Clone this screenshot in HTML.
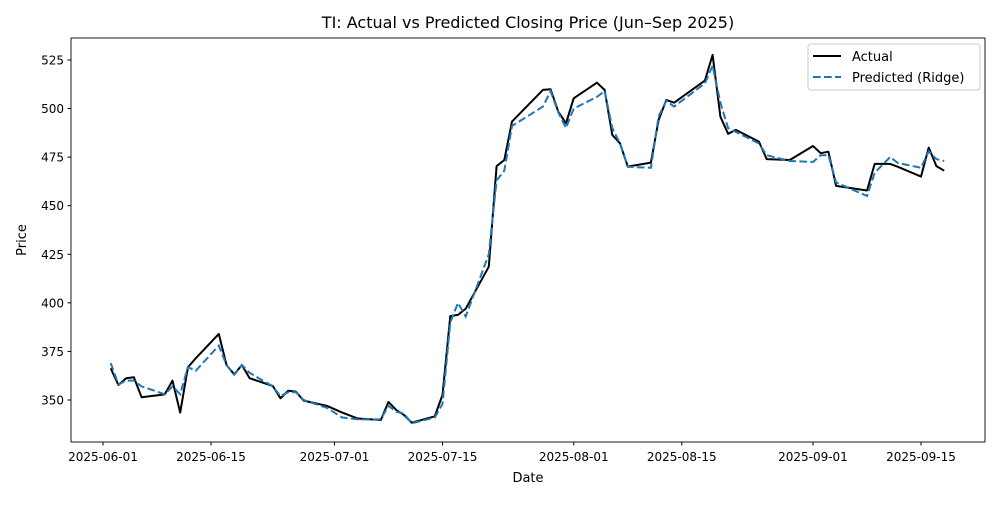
<!DOCTYPE html>
<html><head><meta charset="utf-8"><style>
body{margin:0;background:#fff}
svg{font-family:"DejaVu Sans","Liberation Sans",sans-serif}
</style></head><body>
<svg id="chart" width="1000" height="500" viewBox="0 0 1000 500" xmlns="http://www.w3.org/2000/svg">
<rect width="1000" height="500" fill="#fff"/>
<text x="528" y="28" text-anchor="middle" font-size="16">TI: Actual vs Predicted Closing Price (Jun–Sep 2025)</text>
<g id="grid"></g>
<g id="series"></g>
<rect x="71" y="38" width="914" height="404" fill="none" stroke="#000" stroke-width="0.9"/>
<text x="528" y="482" text-anchor="middle" font-size="13">Date</text>
<text x="26" y="240" text-anchor="middle" font-size="13" transform="rotate(-90 26 240)">Price</text>
<g>
<rect x="808" y="44" width="172" height="46" rx="3" fill="#fff" fill-opacity="0.8" stroke="#ccc"/>
<line x1="813" y1="56" x2="841" y2="56" stroke="#000" stroke-width="2"/>
<text x="852" y="61" font-size="13">Actual</text>
<line x1="813" y1="77" x2="841" y2="77" stroke="#1f77b4" stroke-width="2" stroke-dasharray="7.7,3.3"/>
<text x="852" y="82" font-size="13">Predicted (Ridge)</text>
</g>
</svg>
<script>
const dates=["2025-06-02","2025-06-03","2025-06-04","2025-06-05","2025-06-06","2025-06-09","2025-06-10","2025-06-11","2025-06-12","2025-06-13","2025-06-16","2025-06-17","2025-06-18","2025-06-19","2025-06-20","2025-06-23","2025-06-24","2025-06-25","2025-06-26","2025-06-27","2025-06-30","2025-07-02","2025-07-04","2025-07-07","2025-07-08","2025-07-09","2025-07-10","2025-07-11","2025-07-14","2025-07-15","2025-07-16","2025-07-17","2025-07-18","2025-07-21","2025-07-22","2025-07-23","2025-07-24","2025-07-28","2025-07-29","2025-07-30","2025-07-31","2025-08-01","2025-08-04","2025-08-05","2025-08-06","2025-08-07","2025-08-08","2025-08-11","2025-08-12","2025-08-13","2025-08-14","2025-08-18","2025-08-19","2025-08-20","2025-08-21","2025-08-22","2025-08-25","2025-08-26","2025-08-29","2025-09-01","2025-09-02","2025-09-03","2025-09-04","2025-09-08","2025-09-09","2025-09-11","2025-09-12","2025-09-15","2025-09-16","2025-09-17","2025-09-18"];
const actual=[366.3,357.7,361.2,361.7,351.4,352.9,360,343.5,366.8,371.4,384,368,363.2,368,361.2,357.2,350.9,354.8,354.3,349.7,347,343.5,340.5,339.7,349,344.9,342.3,338.3,341.6,352.6,393.2,393.8,397,418.6,470.4,473.5,493.3,509.6,509.9,498.4,492.4,505.3,513.3,509.6,486.4,482.1,470.1,472.2,494.1,504.4,503,514.4,527.6,495.8,487,489,483,474,473.5,480.7,477,477.8,460.2,457.8,471.5,471.5,470,465,479.9,470.4,468];
const predicted=[369,358,360,360,357,353,357,353,367,365,378,368,363,368,364,357,352,354,354,350,346,341,340,340,347,344,343,338,341,348,390,400,393,425,463,468,491,501,509,498,490,500,506,509,490,482,470,469.5,496,504,501,513,522,503,490,488,482,476,473,472.5,476,476,462,455,467,475,472,469.5,478,474,473];
const xTickLabels=["2025-06-01","2025-06-15","2025-07-01","2025-07-15","2025-08-01","2025-08-15","2025-09-01","2025-09-15"];
const yTickLabels=[350,375,400,425,450,475,500,525];

const NS="http://www.w3.org/2000/svg";
const t0=Date.UTC(2025,5,1);
function dayOf(s){const p=s.split("-");return (Date.UTC(+p[0],+p[1]-1,+p[2])-t0)/86400000;}
function xScale(s){return 103+dayOf(s)*7.717;}
function yScale(v){return 400-(v-350)*1.943;}
function mk(tag,attrs){const e=document.createElementNS(NS,tag);for(const k in attrs)e.setAttribute(k,attrs[k]);return e;}
const grid=document.getElementById("grid"),ser=document.getElementById("series");
yTickLabels.forEach(v=>{const y=yScale(v);
 const l=mk("line",{x1:67.5,x2:71,y1:y,y2:y,stroke:"#000"});
 
 
 grid.appendChild(l);
 const t=mk("text",{x:64,y:y+4.5,"text-anchor":"end","font-size":"12"});t.textContent=v;
 
 
 grid.appendChild(t);});
xTickLabels.forEach(d=>{const x=xScale(d);
 const l=mk("line",{x1:x,x2:x,y1:442,y2:445.5,stroke:"#000"});
 
 
 grid.appendChild(l);
 const t=mk("text",{x:x,y:461,"text-anchor":"middle","font-size":"12"});t.textContent=d;
 
 
 grid.appendChild(t);});
function path(vals){return vals.map((v,i)=>(i?"L":"M")+xScale(dates[i]).toFixed(1)+","+yScale(v).toFixed(1)).join(" ");}
const pa=mk("path",{d:path(actual),fill:"none",stroke:"#000","stroke-width":2,"stroke-linejoin":"round"});


ser.appendChild(pa);
const pp=mk("path",{d:path(predicted),fill:"none",stroke:"#1f77b4","stroke-width":2,"stroke-dasharray":"7.7,3.3"});


ser.appendChild(pp);
</script>
</body></html>
